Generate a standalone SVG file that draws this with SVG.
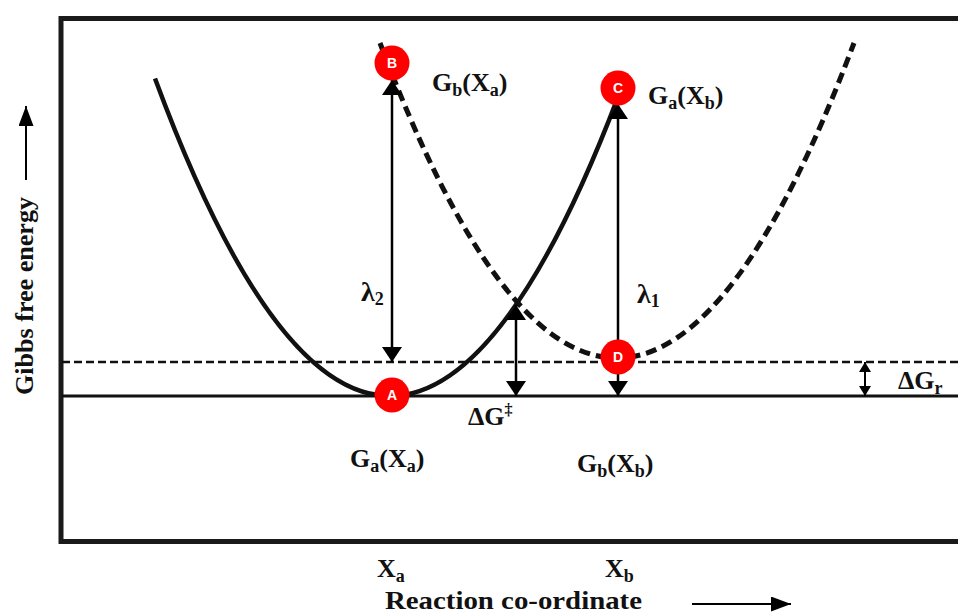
<svg xmlns="http://www.w3.org/2000/svg" width="958" height="614" viewBox="0 0 958 614">
<style>
.lbl{font-family:"Liberation Serif","Times New Roman",serif;font-weight:bold;font-size:26px;fill:#111}
.sub{font-size:18px}
.node circle{fill:#ff0000}
.node text{font-family:"Liberation Sans",Arial,sans-serif;font-weight:bold;font-size:14px;fill:#fff;text-anchor:middle}
.arr{stroke:#000;stroke-width:2.5;fill:none;marker-start:url(#head);marker-end:url(#head)}
</style>
<defs>
<marker id="head" viewBox="0 0 15 20" refX="15" refY="10" markerWidth="15" markerHeight="20" markerUnits="userSpaceOnUse" orient="auto-start-reverse"><path d="M0,0 L15,10 L0,20 z" fill="#000"/></marker>
<marker id="small" viewBox="0 0 10 12" refX="10" refY="6" markerWidth="10" markerHeight="12" markerUnits="userSpaceOnUse" orient="auto-start-reverse"><path d="M0,0 L10,6 L0,12 z" fill="#000"/></marker>
<marker id="axis" viewBox="0 0 20 15" refX="20" refY="7.5" markerWidth="20" markerHeight="15" markerUnits="userSpaceOnUse" orient="auto"><path d="M0,0 L20,7.5 L0,15 z" fill="#000"/></marker>
</defs>
<rect width="958" height="614" fill="#fff"/>
<path d="M958 18.5 H61 V541.5 H958" fill="none" stroke="#1a1a1a" stroke-width="5"/>
<g id="connectors">
<line x1="62" y1="396" x2="958" y2="396" stroke="#111" stroke-width="3"/>
<line x1="62" y1="362" x2="958" y2="362" stroke="#111" stroke-width="2.5" stroke-dasharray="8 4"/>
<path d="M155 78.5 Q386.5 704.1 618 97.1" fill="none" stroke="#111" stroke-width="4.5"/>
<path d="M380 43 Q617 673 854 43" fill="none" stroke="#111" stroke-width="5" stroke-dasharray="11 6"/>
<line class="arr" x1="392" y1="80" x2="392" y2="362"/>
<line class="arr" x1="618" y1="104" x2="618" y2="396"/>
<line class="arr" x1="516" y1="305" x2="516" y2="396"/>
<line x1="865" y1="362" x2="865" y2="396" stroke="#000" stroke-width="2" marker-start="url(#small)" marker-end="url(#small)"/>
<line x1="26" y1="180" x2="26" y2="106" stroke="#000" stroke-width="2" marker-end="url(#axis)"/>
<line x1="692" y1="604" x2="791" y2="604" stroke="#000" stroke-width="2" marker-end="url(#axis)"/>
</g>
<g id="A" class="node"><circle cx="392" cy="395" r="17.5"/><text x="392" y="400">A</text></g>
<g id="B" class="node"><circle cx="392" cy="63" r="17.5"/><text x="392" y="68">B</text></g>
<g id="C" class="node"><circle cx="618" cy="88" r="17.5"/><text x="618" y="93">C</text></g>
<g id="D" class="node"><circle cx="618" cy="357" r="17.5"/><text x="618" y="362">D</text></g>
<g id="labels">
<text class="lbl" x="432" y="91">G<tspan class="sub" dy="5">b</tspan><tspan dy="-5">(X</tspan><tspan class="sub" dy="5">a</tspan><tspan dy="-5">)</tspan></text>
<text class="lbl" x="648" y="104">G<tspan class="sub" dy="5">a</tspan><tspan dy="-5">(X</tspan><tspan class="sub" dy="5">b</tspan><tspan dy="-5">)</tspan></text>
<text class="lbl" x="350" y="467">G<tspan class="sub" dy="5">a</tspan><tspan dy="-5">(X</tspan><tspan class="sub" dy="5">a</tspan><tspan dy="-5">)</tspan></text>
<text class="lbl" x="577" y="472">G<tspan class="sub" dy="5">b</tspan><tspan dy="-5">(X</tspan><tspan class="sub" dy="5">b</tspan><tspan dy="-5">)</tspan></text>
<text class="lbl" x="361" y="301" style="font-size:28px">λ<tspan class="sub" dy="4">2</tspan></text>
<text class="lbl" x="637" y="303" style="font-size:28px">λ<tspan class="sub" dy="4">1</tspan></text>
<text class="lbl" x="468" y="425">ΔG<tspan style="font-size:16px" dy="-10">‡</tspan></text>
<text class="lbl" x="898" y="389">ΔG<tspan class="sub" dy="5">r</tspan></text>
<text class="lbl" x="377" y="577">X<tspan class="sub" dy="5">a</tspan></text>
<text class="lbl" x="605" y="577">X<tspan class="sub" dy="5">b</tspan></text>
<text class="lbl" x="385" y="609" textLength="257" lengthAdjust="spacingAndGlyphs">Reaction co-ordinate</text>
<text class="lbl" transform="translate(33,395) rotate(-90)" x="0" y="0" style="font-size:25px" textLength="198" lengthAdjust="spacingAndGlyphs">Gibbs free energy</text>
</g>
</svg>
